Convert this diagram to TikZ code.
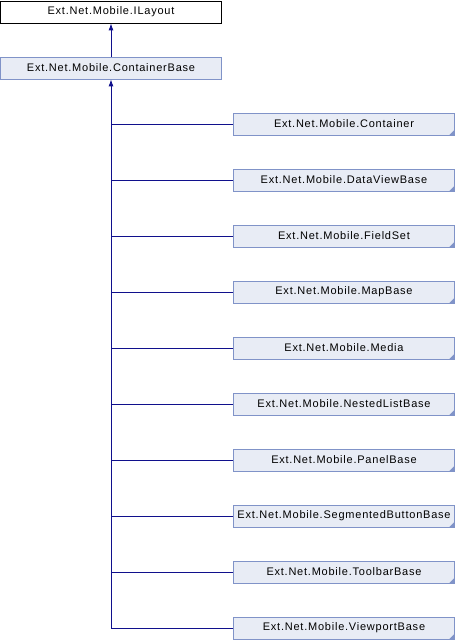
\documentclass[tikz,border=0pt]{standalone}
\usepackage{fontspec}
\setmainfont[LetterSpace=7]{Liberation Sans}
\usetikzlibrary{arrows.meta}
\definecolor{boxfill}{HTML}{E8ECF5}
\definecolor{boxdraw}{HTML}{8093C8}
\definecolor{edgecol}{HTML}{10108C}
\begin{document}
\begin{tikzpicture}[x=1pt,y=-1pt,
  cls/.style={draw=boxdraw,fill=boxfill,line width=0.8pt,minimum width=221pt,minimum height=22pt,inner sep=0pt,font=\fontsize{11}{12}\selectfont},
  iface/.style={draw=black,fill=white,line width=0.8pt,minimum width=221pt,minimum height=22pt,inner sep=0pt,font=\fontsize{11}{12}\selectfont},
  edge/.style={draw=edgecol,line width=0.9pt},
  tip/.style={-{Latex[length=7pt,width=5pt]}}]
\useasboundingbox (0,0) rectangle (456,640);
\node[iface] (il) at (111,12) {Ext.Net.Mobile.ILayout};
\node[cls] (cb) at (111,68) {Ext.Net.Mobile.ContainerBase};
\foreach \n/\t [count=\i from 0] in {c0/Container,c1/DataViewBase,c2/FieldSet,c3/MapBase,c4/Media,c5/NestedListBase,c6/PanelBase,c7/SegmentedButtonBase,c8/ToolbarBase,c9/ViewportBase}{
  \node[cls] (\n) at (344,124+56*\i) {Ext.Net.Mobile.\t};
  \fill[boxdraw] (\n.south east) -- ++(-6,0) -- ++(6,-6) -- cycle;
}
\draw[edge,tip] (cb.north) -- (il.south);
\foreach \n in {c0,c1,c2,c3,c4,c5,c6,c7,c8}{
  \draw[edge] (\n.west) -- (\n.west -| cb.south);
}
\draw[edge,tip] (c9.west) -| (cb.south);
\end{tikzpicture}
\end{document}
